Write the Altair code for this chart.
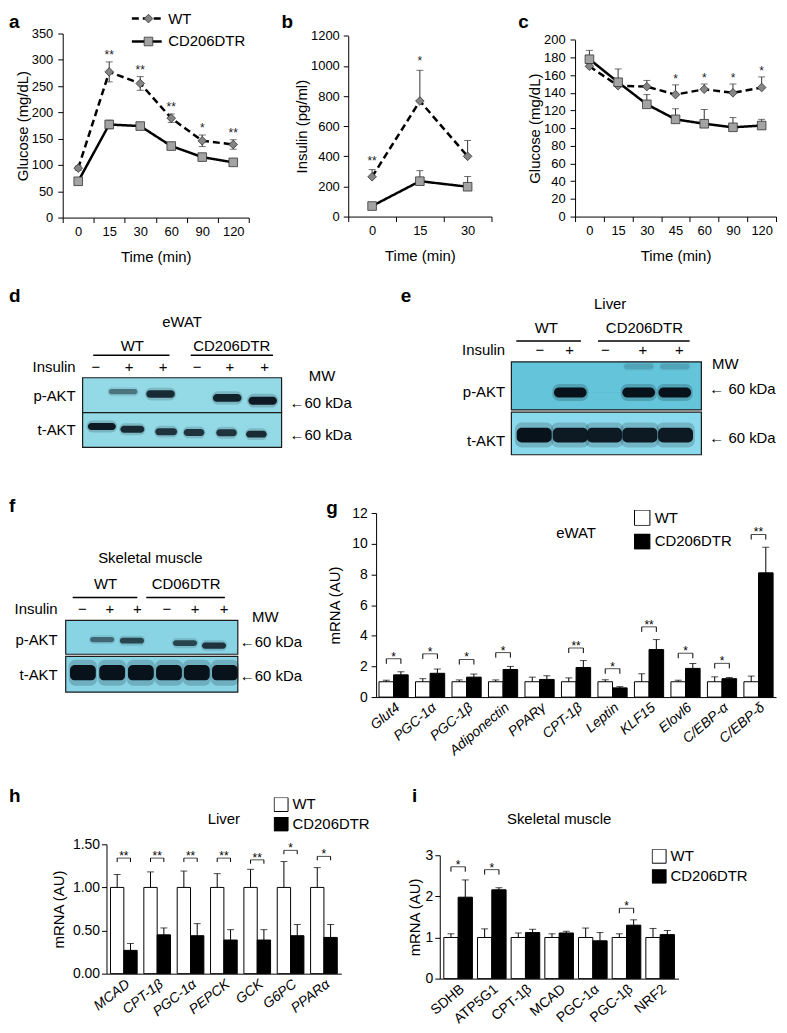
import altair as alt
import pandas as pd

FONT = "Liberation Sans"
SERIES = ["WT", "CD206DTR"]
MARKER_KEYS = ["wt", "cd"]

# ================= DATA =================
# a: glucose tolerance test
a_time = ["0", "15", "30", "60", "90", "120"]
a_wt = [94, 277, 255, 189, 146, 139]
a_wt_err = [4, 19, 13, 8, 11, 9]
a_cd = [69, 177, 174, 136, 115, 105]
a_cd_err = [3, 8, 3, 5, 3, 3]
a_sig = ["", "**", "**", "**", "*", "**"]

# b: insulin
b_time = ["0", "15", "30"]
b_wt = [264, 767, 400]
b_wt_err = [48, 204, 105]
b_cd = [70, 235, 198]
b_cd_err = [0, 70, 68]
b_sig = ["**", "*", ""]

# c: insulin tolerance test
c_time = ["0", "15", "30", "45", "60", "90", "120"]
c_wt = [170, 148, 147, 138, 144, 140, 146]
c_wt_err = [3, 4, 7, 11, 6, 10, 12]
c_cd = [178, 152, 127, 110, 105, 101, 103]
c_cd_err = [10, 15, 11, 12, 16, 11, 7]
c_sig = ["", "", "", "*", "*", "*", "*"]

# g: eWAT mRNA
g_genes = ["Glut4", "PGC-1α", "PGC-1β", "Adiponectin", "PPARγ", "CPT-1β",
           "Leptin", "KLF15", "Elovl6", "C/EBP-α", "C/EBP-δ"]
g_wt = [1.0] * 11
g_wt_err = [0.1, 0.2, 0.12, 0.12, 0.3, 0.25, 0.13, 0.52, 0.1, 0.32, 0.37]
g_cd = [1.45, 1.55, 1.3, 1.8, 1.15, 1.93, 0.6, 3.1, 1.87, 1.2, 8.1]
g_cd_err = [0.2, 0.28, 0.2, 0.2, 0.24, 0.45, 0.08, 0.65, 0.32, 0.08, 1.67]
g_sig = ["*", "*", "*", "*", "", "**", "*", "**", "*", "*", "**"]
g_bracket = [2.5, 2.82, 2.45, 2.9, 0, 3.2, 1.85, 4.58, 2.86, 2.2, 10.6]

# h: liver mRNA
h_genes = ["MCAD", "CPT-1β", "PGC-1α", "PEPCK", "GCK", "G6PC", "PPARα"]
h_wt = [1.0] * 7
h_wt_err = [0.15, 0.18, 0.19, 0.16, 0.21, 0.30, 0.23]
h_cd = [0.27, 0.45, 0.44, 0.39, 0.39, 0.44, 0.42]
h_cd_err = [0.08, 0.08, 0.14, 0.12, 0.12, 0.13, 0.15]
h_sig = ["**", "**", "**", "**", "**", "*", "*"]
h_bracket = [1.34, 1.34, 1.34, 1.34, 1.32, 1.43, 1.36]

# i: skeletal muscle mRNA
i_genes = ["SDHB", "ATP5G1", "CPT-1β", "MCAD", "PGC-1α", "PGC-1β", "NRF2"]
i_wt = [1.0] * 7
i_wt_err = [0.09, 0.21, 0.11, 0.09, 0.23, 0.09, 0.22]
i_cd = [1.98, 2.16, 1.12, 1.11, 0.92, 1.3, 1.07]
i_cd_err = [0.42, 0.05, 0.08, 0.04, 0.2, 0.13, 0.1]
i_sig = ["*", "*", "", "", "", "*", ""]
i_bracket = [2.72, 2.65, 0, 0, 0, 1.71, 0]

# western blots: band intensities (0 = no band)
d_signs = ["−", "+", "+", "−", "+", "+"]
d_p_int = [0.0, 0.45, 0.85, 0.0, 0.9, 0.95]
d_t_int = [0.95, 0.85, 0.8, 0.8, 0.8, 0.85]
e_signs = ["−", "+", "−", "+", "+"]
e_p_int = [0.0, 1.0, 0.04, 1.0, 1.0]
e_ghost_int = [0.0, 0.0, 0.0, 0.15, 0.15]
e_t_int = [1.0, 0.95, 0.95, 0.95, 0.95]
f_signs = ["−", "+", "+", "−", "+", "+"]
f_p_int = [0.0, 0.5, 0.7, 0.0, 0.7, 0.8]
f_t_int = [1.0, 1.0, 1.0, 1.0, 1.0, 1.0]

# ================= LAYOUT (lane / row coordinates of blot items) =================
d_lay = dict(
    p_lane=[0.7, 1.72, 2.85, 3.85, 4.86, 5.93], p_y=[0.5, 0.40, 0.47, 0.55, 0.58, 0.66],
    t_lane=[1.08, 2.0, 3.02, 3.86, 4.84, 5.74], t_y=[1.40, 1.48, 1.55, 1.57, 1.58, 1.62],
    sign_x=[0.9, 1.9, 2.93, 3.95, 4.94, 5.99], sign_y=-0.32,
)
e_lay = dict(
    p_lane=[1.2, 2.05, 2.95, 3.85, 4.8], p_y=[0.67] * 5,
    g_y=[0.1] * 5,
    t_lane=[1.1, 2.05, 2.95, 3.88, 4.82], t_y=[1.6] * 5,
    sign_x=[1.25, 2.03, 2.97, 3.96, 4.92], sign_y=-0.26,
)
f_lay = dict(
    p_lane=[1.0, 1.77, 2.81, 3.9, 4.66, 5.67], p_y=[0.55, 0.55, 0.58, 0.6, 0.65, 0.72],
    t_lane=[1.1, 2.12, 3.12, 4.1, 5.07, 6.05], t_y=[1.5] * 6,
    sign_x=[1.08, 2.04, 3.0, 4.03, 5.01, 6.02], sign_y=-0.333,
)


def letter_layer(ch, dx, dy):
    return alt.Chart(pd.DataFrame({"label": [ch]})).mark_text(
        align="left", baseline="alphabetic", fontSize=19, fontWeight="bold", color="black"
    ).encode(x=alt.value(dx), y=alt.value(dy), text="label:N")


def spacer(w):
    return alt.Chart(pd.DataFrame({"s": [0]})).mark_point(opacity=0).encode(
        x=alt.X("s:Q", axis=None), y=alt.Y("s:Q", axis=None)).properties(width=w, height=1)


def indep(ch):
    return ch.resolve_scale(color="independent", fill="independent", shape="independent",
                            strokeDash="independent", xOffset="independent"
                            ).resolve_legend(color="independent", fill="independent",
                                             shape="independent", strokeDash="independent")


# ================= LINE PANELS =================
def line_panel(times, wt, wt_err, cd, cd_err, sig, both, width, height, ydom, yrange, yvals,
               ytitle, lpad, tpad, letter, ldx, ldy, star_dy, with_legend):
    rows = []
    for i, t in enumerate(times):
        for s, k, v, e, sg in (("WT", "wt", wt[i], wt_err[i], sig[i]),
                               ("CD206DTR", "cd", cd[i], cd_err[i], "")):
            rows.append({"t": t, "idx": i, "series": s, "s2": k, "v": v, "hi": v + e,
                         "lo": (v - e) if both else v, "sig": sg})
    df = pd.DataFrame(rows)
    base = alt.Chart(df)
    x = alt.X("t:N", sort=times, scale=alt.Scale(type="band", paddingInner=0, paddingOuter=0),
              axis=alt.Axis(title="Time (min)", labelAngle=0, tickBand="extent",
                            labelPadding=3, titlePadding=11, labelFontSize=13))
    ys = alt.Scale(domain=ydom, range=yrange, nice=False, zero=True)
    yax = alt.Axis(values=yvals, format="d", title=ytitle, labelPadding=lpad, titlePadding=tpad,
                   labelFontSize=13)

    def Y(f):
        return alt.Y(f, type="quantitative", scale=ys, axis=yax)

    if with_legend:
        leg_line = alt.Legend(orient="none", legendX=68, legendY=-23, title=None, padding=0,
                              symbolType="stroke", symbolSize=900, symbolStrokeWidth=2.5,
                              symbolStrokeColor="black", labelFontSize=15, labelOffset=5,
                              rowPadding=7, clipHeight=16, labelColor="black")
        leg_pt = alt.Legend(orient="none", legendX=78.7, legendY=-23, title=None, padding=0,
                            symbolSize=75, symbolFillColor="#8c8c8c", symbolStrokeColor="#333333",
                            symbolStrokeWidth=0.8, labelExpr="''", labelFontSize=15, labelOffset=5,
                            rowPadding=7, clipHeight=16)
    else:
        leg_line = None
        leg_pt = None

    err = base.mark_rule(color="#333333", strokeWidth=1).encode(x=x, y=Y("lo"), y2="hi:Q")
    caps = base.mark_tick(color="#333333", size=7, thickness=1).encode(x=x, y=Y("hi"))
    layers = [err, caps]
    if both:
        layers.append(base.mark_tick(color="#333333", size=7, thickness=1).encode(x=x, y=Y("lo")))
    line = base.mark_line(color="black", strokeWidth=2.5).encode(
        x=x, y=Y("v"), order=alt.Order("idx:Q"),
        strokeDash=alt.StrokeDash("series:N", sort=SERIES,
                                  scale=alt.Scale(domain=SERIES, range=[[7, 4], [1, 0]]),
                                  legend=leg_line))
    pts = base.mark_point(filled=True, size=75, stroke="#333333", strokeWidth=0.8, opacity=1).encode(
        x=x, y=Y("v"),
        shape=alt.Shape("s2:N", scale=alt.Scale(domain=MARKER_KEYS, range=["diamond", "square"]),
                        legend=leg_pt),
        fill=alt.Fill("s2:N", scale=alt.Scale(domain=MARKER_KEYS, range=["#858585", "#a3a3a3"]),
                      legend=None))
    stars = base.transform_filter("datum.sig != ''").mark_text(
        fontSize=12, baseline="alphabetic", dy=star_dy, color="#222222").encode(
        x=x, y=Y("hi"), text="sig:N")
    layers += [line, pts, stars, letter_layer(letter, ldx, ldy)]
    return alt.layer(*layers).properties(width=width, height=height)


# ================= BLOT PANELS =================
def blot_panel(width, height, xdom, ydom, n, box_y, box_colors, lay, p_int, t_int, p_hw, t_hw,
               p_ht, t_ht, signs, center, left, right, letter, rules, ghost=None):
    xs = alt.Scale(domain=xdom, nice=False, zero=False)
    ysc = alt.Scale(domain=ydom, nice=False, zero=False, reverse=True)

    def X(f):
        return alt.X(f, type="quantitative", scale=xs, axis=None)

    def Y(f):
        return alt.Y(f, type="quantitative", scale=ysc, axis=None)

    box_df = pd.DataFrame({"row": ["p", "t"], "xa": [0.5, 0.5], "xb": [n + 0.5, n + 0.5],
                           "ya": [box_y[0][0], box_y[1][0]], "yb": [box_y[0][1], box_y[1][1]]})
    box = alt.Chart(box_df).mark_rect(stroke="#1b1b1b", strokeWidth=1.2).encode(
        x=X("xa"), x2="xb:Q", y=Y("ya"), y2="yb:Q",
        fill=alt.Fill("row:N", scale=alt.Scale(domain=["p", "t"], range=box_colors), legend=None))

    bands = []
    for i in range(n):
        if p_int[i] > 0:
            bands.append({"lane": lay["p_lane"][i], "y": lay["p_y"][i], "int": p_int[i],
                          "hw": p_hw, "ht": p_ht[0] + p_ht[1] * p_int[i]})
        if t_int[i] > 0:
            hw = t_hw[i] if isinstance(t_hw, list) else t_hw
            bands.append({"lane": lay["t_lane"][i], "y": lay["t_y"][i], "int": t_int[i],
                          "hw": hw, "ht": t_ht})
        if ghost is not None and ghost[i] > 0:
            bands.append({"lane": lay["p_lane"][i], "y": lay["g_y"][i], "int": ghost[i],
                          "hw": p_hw * 0.9, "ht": 0.06})
    bdf = pd.DataFrame(bands)
    halo = alt.Chart(bdf).transform_calculate(
        xa="datum.lane - datum.hw * 1.1", xb="datum.lane + datum.hw * 1.1",
        ya="datum.y - datum.ht * 1.7", yb="datum.y + datum.ht * 1.7", op="datum.int * 0.2"
    ).mark_rect(color="#0b1b24", cornerRadius=7).encode(
        x=X("xa"), x2="xb:Q", y=Y("ya"), y2="yb:Q", opacity=alt.Opacity("op:Q", scale=None))
    core = alt.Chart(bdf).transform_calculate(
        xa="datum.lane - datum.hw", xb="datum.lane + datum.hw",
        ya="datum.y - datum.ht", yb="datum.y + datum.ht"
    ).mark_rect(color="#07121a", cornerRadius=5).encode(
        x=X("xa"), x2="xb:Q", y=Y("ya"), y2="yb:Q", opacity=alt.Opacity("int:Q", scale=None))

    def txt(labels, xv, yv, align, size=15, weight="normal"):
        df = pd.DataFrame({"label": labels, "x": xv, "y": yv})
        return alt.Chart(df).mark_text(align=align, baseline="middle", fontSize=size,
                                       fontWeight=weight, color="black").encode(
            x=X("x"), y=Y("y"), text="label:N")

    sign_layer = txt(signs, lay["sign_x"], [lay["sign_y"]] * n, "center")
    t_center = txt(*center, "center")
    t_left = txt(*left, "left")
    t_right = txt(*right, "right")
    t_letter = txt([letter[0]], [letter[1]], [letter[2]], "left", 19, "bold")
    rdf = pd.DataFrame({"xa": [r[0] for r in rules], "xb": [r[1] for r in rules],
                        "y": [r[2] for r in rules]})
    rule = alt.Chart(rdf).mark_rule(color="black", strokeWidth=1.5).encode(
        x=X("xa"), x2="xb:Q", y=Y("y"))
    return alt.layer(box, halo, core, sign_layer, t_center, t_left, t_right, t_letter, rule
                     ).properties(width=width, height=height)


# ================= BAR PANELS =================
def bar_panel(genes, wt, wt_err, cd, cd_err, sig, bracket, width, height, ydom, yrange, yvals,
              yfmt, leg_len, pi, po, italic, angle, letter, ldx, ldy, lx, ly, sym, clip, rowpad,
              note, note_gene, note_y, lpad, tpad):
    rows = []
    for i, g in enumerate(genes):
        rows.append({"gene": g, "group": "WT", "v": wt[i], "hi": wt[i] + wt_err[i]})
        rows.append({"gene": g, "group": "CD206DTR", "v": cd[i], "hi": cd[i] + cd_err[i]})
    df = pd.DataFrame(rows)
    br = pd.DataFrame([{"gene": g, "b": bracket[i], "sig": sig[i]}
                       for i, g in enumerate(genes) if sig[i]])
    legs = pd.DataFrame([{"gene": g, "group": grp, "b": bracket[i], "b2": bracket[i] - leg_len}
                         for i, g in enumerate(genes) if sig[i] for grp in SERIES])
    step = width / (len(genes) - pi + 2 * po)
    bar_w = step * (1 - pi) / 2
    xs = alt.Scale(domain=genes, paddingInner=pi, paddingOuter=po)
    x = alt.X("gene:N", sort=genes, scale=xs,
              axis=alt.Axis(title=None, labelAngle=angle, ticks=False,
                            labelFontStyle="italic" if italic else "normal",
                            labelPadding=3, labelFontSize=14))
    xo = alt.XOffset("group:N", sort=SERIES, scale=alt.Scale(domain=SERIES))
    ys = alt.Scale(domain=ydom, range=yrange, nice=False)
    yax = alt.Axis(values=yvals, format=yfmt, title="mRNA (AU)", labelPadding=lpad,
                   titlePadding=tpad)

    def Y(f):
        return alt.Y(f, type="quantitative", scale=ys, axis=yax)

    leg = alt.Legend(orient="none", legendX=lx, legendY=ly, title=None, padding=0,
                     symbolType="square", symbolSize=sym, symbolStrokeColor="black",
                     symbolStrokeWidth=1, labelFontSize=15, labelOffset=4, rowPadding=rowpad,
                     clipHeight=clip, labelColor="black", symbolOpacity=1)
    bars = alt.Chart(df).mark_bar(stroke="black", strokeWidth=1).encode(
        x=x, xOffset=xo, y=Y("v"),
        color=alt.Color("group:N", sort=SERIES,
                        scale=alt.Scale(domain=SERIES, range=["white", "black"]), legend=leg))
    err = alt.Chart(df).mark_rule(color="black", strokeWidth=1).encode(
        x=x, xOffset=xo, y=Y("v"), y2="hi:Q")
    cap = alt.Chart(df).mark_tick(color="black", size=7, thickness=1).encode(
        x=x, xOffset=xo, y=Y("hi"))
    top = alt.Chart(br).mark_tick(color="black", size=bar_w, thickness=1).encode(x=x, y=Y("b"))
    leg_r = alt.Chart(legs).mark_rule(color="black", strokeWidth=1).encode(
        x=x, xOffset=xo, y=Y("b"), y2="b2:Q")
    star = alt.Chart(br).mark_text(baseline="alphabetic", dy=2, fontSize=12,
                                   color="black").encode(x=x, y=Y("b"), text="sig:N")
    nt = alt.Chart(pd.DataFrame({"gene": [note_gene], "y": [note_y], "label": [note]})).mark_text(
        fontSize=15, color="black").encode(x=x, y=Y("y"), text="label:N")
    return alt.layer(bars, err, cap, top, leg_r, star, nt, letter_layer(letter, ldx, ldy)
                     ).properties(width=width, height=height)


# ================= BUILD =================
a = line_panel(a_time, a_wt, a_wt_err, a_cd, a_cd_err, a_sig, True, 187, 185, [0, 350], [185, 0],
               list(range(0, 351, 50)), "Glucose (mg/dL)", 5, 1, "a", -54, -5.5, -3, True)
b = line_panel(b_time, b_wt, b_wt_err, b_cd, b_cd_err, b_sig, False, 144, 184, [0, 1200],
               [184, 2.3], list(range(0, 1201, 200)), "Insulin (pg/ml)", 4, 1, "b", -67, -5.5,
               -5, False)
c = line_panel(c_time, c_wt, c_wt_err, c_cd, c_cd_err, c_sig, False, 202, 184, [0, 200],
               [184, 6.3], list(range(0, 201, 20)), "Glucose (mg/dL)", 5, 1, "c", -57, -5.5,
               -2, False)

d = blot_panel(300, 210, [-0.1, 8.9], [-3.0, 3.0], 6, [(0, 1), (1, 2)], ["#93d9e6", "#93d9e6"],
               d_lay, d_p_int, d_t_int, 0.43, [0.42, 0.36, 0.33, 0.31, 0.31, 0.31], (0.04, 0.08),
               0.1, d_signs,
               (["eWAT", "WT", "CD206DTR", "MW"], [3.5, 2.0, 5.0, 7.72], [-1.6, -0.914, -0.914, -0.057]),
               (["←60 kDa", "←60 kDa"], [6.74, 6.74], [0.734, 1.657]),
               (["Insulin", "p-AKT", "t-AKT"], [0.29, 0.29, 0.29], [-0.32, 0.514, 1.51]),
               ("d", -1.72, -2.343), [(0.82, 3.12, -0.649), (3.76, 6.24, -0.649)])
e = blot_panel(380, 210, [-2.458, 7.49], [-1.935, 2.63], 5, [(0, 1.05), (1.1, 2.03)],
               ["#63c4da", "#8bd9ec"], e_lay, e_p_int, e_t_int, 0.43, 0.46, (0.0, 0.11), 0.16,
               e_signs,
               (["Liver", "WT", "CD206DTR", "MW"], [3.1, 1.42, 4.0, 6.13], [-1.26, -0.739, -0.739, 0.04]),
               (["← 60 kDa", "← 60 kDa"], [5.71, 5.71], [0.587, 1.674]),
               (["Insulin", "p-AKT", "t-AKT"], [0.335, 0.335, 0.335], [-0.26, 0.667, 1.72]),
               ("e", -2.41, -1.435), [(0.63, 2.33, -0.457), (2.78, 5.19, -0.457)],
               ghost=e_ghost_int)
f = blot_panel(238, 210, [0.396, 8.65], [-3.714, 2.286], 6, [(0, 0.97), (1.03, 2.06)],
               ["#88d4e5", "#88d4e5"], f_lay, f_p_int, f_t_int, 0.42, 0.45, (0.05, 0.05), 0.22,
               f_signs,
               (["Skeletal muscle", "WT", "CD06DTR", "MW"], [3.45, 1.89, 4.7, 7.46],
                [-1.8, -1.057, -1.057, -0.1]),
               (["←60 kDa", "←60 kDa"], [6.57, 6.57], [0.62, 1.6]),
               (["Insulin", "p-AKT", "t-AKT"], [0.22, 0.22, 0.22], [-0.333, 0.55, 1.57]),
               ("f", -1.477, -3.286), [(0.743, 2.997, -0.657), (3.31, 6.05, -0.657)])

g = bar_panel(g_genes, g_wt, g_wt_err, g_cd, g_cd_err, g_sig, g_bracket, 402, 207, [0, 12],
              [207, 22], list(range(0, 13, 2)), "d", 0.33, 0.2, 0.08, True, -40, "g", -50, 23,
              259, 19, 240, 15.5, 7.8, "eWAT", "CPT-1β", 10.7, 4, 9)
h = bar_panel(h_genes, h_wt, h_wt_err, h_cd, h_cd_err, h_sig, h_bracket, 236, 208, [0, 1.5],
              [208, 78], [0, 0.5, 1.0, 1.5], ".2f", 0.045, 0.2, 0.12, True, -38, "h", -98, 35.7,
              168, 31, 196, 14, 4.5, "Liver", "PEPCK", 1.79, 2, 6)
i = bar_panel(i_genes, i_wt, i_wt_err, i_cd, i_cd_err, i_sig, i_bracket, 240, 213, [0, 3],
              [213, 89], [0, 1, 2, 3], "d", 0.12, 0.15, 0.12, False, -40, "i", -28, 35,
              213, 83, 196, 14, 5, "Skeletal muscle", "MCAD", 3.88, 2, 3)

row1 = indep(alt.hconcat(a, spacer(100), b, spacer(84), c, spacing=0, bounds="flush"))
row2 = indep(alt.hconcat(d, spacer(38), e, spacing=0, bounds="flush"))
row3 = indep(alt.hconcat(f, spacer(77), g, spacing=0, bounds="flush"))
row4 = indep(alt.hconcat(spacer(44), h, spacer(99), i, spacing=0, bounds="flush"))

chart = indep(alt.vconcat(row1, row2, row3, row4, spacing=6)).properties(
    padding={"left": 0, "top": 0, "right": 2, "bottom": 2}
).configure(font=FONT).configure_view(stroke=None).configure_axis(
    domainColor="black", tickColor="black", labelColor="black", titleColor="black",
    labelFont=FONT, titleFont=FONT, labelFontSize=14, titleFontSize=15,
    titleFontWeight="normal", grid=False, tickSize=5, domainWidth=1, tickWidth=1
).configure_legend(labelFont=FONT, labelColor="black").configure_title(font=FONT, color="black")

chart.save("out.html", embed_options={"renderer": "svg", "actions": False})
